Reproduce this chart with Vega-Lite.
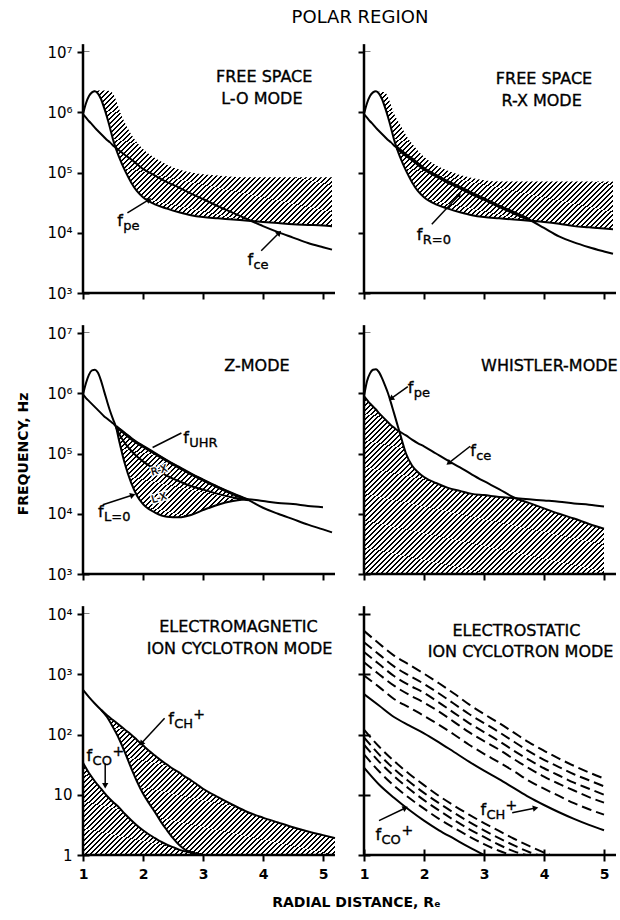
{
"$schema": "https://vega.github.io/schema/vega-lite/v6.json",
"background": "white",
"padding": {"left": 16, "top": 8, "right": 0, "bottom": 4},
"title": {"text": "POLAR REGION", "fontSize": 18, "fontWeight": "normal", "font": "DejaVu Sans", "color": "black", "anchor": "middle", "frame": "group", "dx": 277, "offset": 16},
"params": [{"name": "hatch", "value": {"gradient": "linear", "x1": 0, "y1": 0, "x2": 1, "y2": 1, "stops": [
{"offset":0,"color":"#000"},{"offset":0.004,"color":"#000"},{"offset":0.004,"color":"#fff"},{"offset":0.01,"color":"#fff"},
{"offset":0.01,"color":"#000"},{"offset":0.014,"color":"#000"},{"offset":0.014,"color":"#fff"},{"offset":0.02,"color":"#fff"},
{"offset":0.02,"color":"#000"},{"offset":0.024,"color":"#000"},{"offset":0.024,"color":"#fff"},{"offset":0.03,"color":"#fff"},
{"offset":0.03,"color":"#000"},{"offset":0.034,"color":"#000"},{"offset":0.034,"color":"#fff"},{"offset":0.04,"color":"#fff"},
{"offset":0.04,"color":"#000"},{"offset":0.044,"color":"#000"},{"offset":0.044,"color":"#fff"},{"offset":0.05,"color":"#fff"},
{"offset":0.05,"color":"#000"},{"offset":0.054,"color":"#000"},{"offset":0.054,"color":"#fff"},{"offset":0.06,"color":"#fff"},
{"offset":0.06,"color":"#000"},{"offset":0.064,"color":"#000"},{"offset":0.064,"color":"#fff"},{"offset":0.07,"color":"#fff"},
{"offset":0.07,"color":"#000"},{"offset":0.074,"color":"#000"},{"offset":0.074,"color":"#fff"},{"offset":0.08,"color":"#fff"},
{"offset":0.08,"color":"#000"},{"offset":0.084,"color":"#000"},{"offset":0.084,"color":"#fff"},{"offset":0.09,"color":"#fff"},
{"offset":0.09,"color":"#000"},{"offset":0.094,"color":"#000"},{"offset":0.094,"color":"#fff"},{"offset":0.1,"color":"#fff"},
{"offset":0.1,"color":"#000"},{"offset":0.104,"color":"#000"},{"offset":0.104,"color":"#fff"},{"offset":0.11,"color":"#fff"},
{"offset":0.11,"color":"#000"},{"offset":0.114,"color":"#000"},{"offset":0.114,"color":"#fff"},{"offset":0.12,"color":"#fff"},
{"offset":0.12,"color":"#000"},{"offset":0.124,"color":"#000"},{"offset":0.124,"color":"#fff"},{"offset":0.13,"color":"#fff"},
{"offset":0.13,"color":"#000"},{"offset":0.134,"color":"#000"},{"offset":0.134,"color":"#fff"},{"offset":0.14,"color":"#fff"},
{"offset":0.14,"color":"#000"},{"offset":0.144,"color":"#000"},{"offset":0.144,"color":"#fff"},{"offset":0.15,"color":"#fff"},
{"offset":0.15,"color":"#000"},{"offset":0.154,"color":"#000"},{"offset":0.154,"color":"#fff"},{"offset":0.16,"color":"#fff"},
{"offset":0.16,"color":"#000"},{"offset":0.164,"color":"#000"},{"offset":0.164,"color":"#fff"},{"offset":0.17,"color":"#fff"},
{"offset":0.17,"color":"#000"},{"offset":0.174,"color":"#000"},{"offset":0.174,"color":"#fff"},{"offset":0.18,"color":"#fff"},
{"offset":0.18,"color":"#000"},{"offset":0.184,"color":"#000"},{"offset":0.184,"color":"#fff"},{"offset":0.19,"color":"#fff"},
{"offset":0.19,"color":"#000"},{"offset":0.194,"color":"#000"},{"offset":0.194,"color":"#fff"},{"offset":0.2,"color":"#fff"},
{"offset":0.2,"color":"#000"},{"offset":0.204,"color":"#000"},{"offset":0.204,"color":"#fff"},{"offset":0.21,"color":"#fff"},
{"offset":0.21,"color":"#000"},{"offset":0.214,"color":"#000"},{"offset":0.214,"color":"#fff"},{"offset":0.22,"color":"#fff"},
{"offset":0.22,"color":"#000"},{"offset":0.224,"color":"#000"},{"offset":0.224,"color":"#fff"},{"offset":0.23,"color":"#fff"},
{"offset":0.23,"color":"#000"},{"offset":0.234,"color":"#000"},{"offset":0.234,"color":"#fff"},{"offset":0.24,"color":"#fff"},
{"offset":0.24,"color":"#000"},{"offset":0.244,"color":"#000"},{"offset":0.244,"color":"#fff"},{"offset":0.25,"color":"#fff"},
{"offset":0.25,"color":"#000"},{"offset":0.254,"color":"#000"},{"offset":0.254,"color":"#fff"},{"offset":0.26,"color":"#fff"},
{"offset":0.26,"color":"#000"},{"offset":0.264,"color":"#000"},{"offset":0.264,"color":"#fff"},{"offset":0.27,"color":"#fff"},
{"offset":0.27,"color":"#000"},{"offset":0.274,"color":"#000"},{"offset":0.274,"color":"#fff"},{"offset":0.28,"color":"#fff"},
{"offset":0.28,"color":"#000"},{"offset":0.284,"color":"#000"},{"offset":0.284,"color":"#fff"},{"offset":0.29,"color":"#fff"},
{"offset":0.29,"color":"#000"},{"offset":0.294,"color":"#000"},{"offset":0.294,"color":"#fff"},{"offset":0.3,"color":"#fff"},
{"offset":0.3,"color":"#000"},{"offset":0.304,"color":"#000"},{"offset":0.304,"color":"#fff"},{"offset":0.31,"color":"#fff"},
{"offset":0.31,"color":"#000"},{"offset":0.314,"color":"#000"},{"offset":0.314,"color":"#fff"},{"offset":0.32,"color":"#fff"},
{"offset":0.32,"color":"#000"},{"offset":0.324,"color":"#000"},{"offset":0.324,"color":"#fff"},{"offset":0.33,"color":"#fff"},
{"offset":0.33,"color":"#000"},{"offset":0.334,"color":"#000"},{"offset":0.334,"color":"#fff"},{"offset":0.34,"color":"#fff"},
{"offset":0.34,"color":"#000"},{"offset":0.344,"color":"#000"},{"offset":0.344,"color":"#fff"},{"offset":0.35,"color":"#fff"},
{"offset":0.35,"color":"#000"},{"offset":0.354,"color":"#000"},{"offset":0.354,"color":"#fff"},{"offset":0.36,"color":"#fff"},
{"offset":0.36,"color":"#000"},{"offset":0.364,"color":"#000"},{"offset":0.364,"color":"#fff"},{"offset":0.37,"color":"#fff"},
{"offset":0.37,"color":"#000"},{"offset":0.374,"color":"#000"},{"offset":0.374,"color":"#fff"},{"offset":0.38,"color":"#fff"},
{"offset":0.38,"color":"#000"},{"offset":0.384,"color":"#000"},{"offset":0.384,"color":"#fff"},{"offset":0.39,"color":"#fff"},
{"offset":0.39,"color":"#000"},{"offset":0.394,"color":"#000"},{"offset":0.394,"color":"#fff"},{"offset":0.4,"color":"#fff"},
{"offset":0.4,"color":"#000"},{"offset":0.404,"color":"#000"},{"offset":0.404,"color":"#fff"},{"offset":0.41,"color":"#fff"},
{"offset":0.41,"color":"#000"},{"offset":0.414,"color":"#000"},{"offset":0.414,"color":"#fff"},{"offset":0.42,"color":"#fff"},
{"offset":0.42,"color":"#000"},{"offset":0.424,"color":"#000"},{"offset":0.424,"color":"#fff"},{"offset":0.43,"color":"#fff"},
{"offset":0.43,"color":"#000"},{"offset":0.434,"color":"#000"},{"offset":0.434,"color":"#fff"},{"offset":0.44,"color":"#fff"},
{"offset":0.44,"color":"#000"},{"offset":0.444,"color":"#000"},{"offset":0.444,"color":"#fff"},{"offset":0.45,"color":"#fff"},
{"offset":0.45,"color":"#000"},{"offset":0.454,"color":"#000"},{"offset":0.454,"color":"#fff"},{"offset":0.46,"color":"#fff"},
{"offset":0.46,"color":"#000"},{"offset":0.464,"color":"#000"},{"offset":0.464,"color":"#fff"},{"offset":0.47,"color":"#fff"},
{"offset":0.47,"color":"#000"},{"offset":0.474,"color":"#000"},{"offset":0.474,"color":"#fff"},{"offset":0.48,"color":"#fff"},
{"offset":0.48,"color":"#000"},{"offset":0.484,"color":"#000"},{"offset":0.484,"color":"#fff"},{"offset":0.49,"color":"#fff"},
{"offset":0.49,"color":"#000"},{"offset":0.494,"color":"#000"},{"offset":0.494,"color":"#fff"},{"offset":0.5,"color":"#fff"},
{"offset":0.5,"color":"#000"},{"offset":0.504,"color":"#000"},{"offset":0.504,"color":"#fff"},{"offset":0.51,"color":"#fff"},
{"offset":0.51,"color":"#000"},{"offset":0.514,"color":"#000"},{"offset":0.514,"color":"#fff"},{"offset":0.52,"color":"#fff"},
{"offset":0.52,"color":"#000"},{"offset":0.524,"color":"#000"},{"offset":0.524,"color":"#fff"},{"offset":0.53,"color":"#fff"},
{"offset":0.53,"color":"#000"},{"offset":0.534,"color":"#000"},{"offset":0.534,"color":"#fff"},{"offset":0.54,"color":"#fff"},
{"offset":0.54,"color":"#000"},{"offset":0.544,"color":"#000"},{"offset":0.544,"color":"#fff"},{"offset":0.55,"color":"#fff"},
{"offset":0.55,"color":"#000"},{"offset":0.554,"color":"#000"},{"offset":0.554,"color":"#fff"},{"offset":0.56,"color":"#fff"},
{"offset":0.56,"color":"#000"},{"offset":0.564,"color":"#000"},{"offset":0.564,"color":"#fff"},{"offset":0.57,"color":"#fff"},
{"offset":0.57,"color":"#000"},{"offset":0.574,"color":"#000"},{"offset":0.574,"color":"#fff"},{"offset":0.58,"color":"#fff"},
{"offset":0.58,"color":"#000"},{"offset":0.584,"color":"#000"},{"offset":0.584,"color":"#fff"},{"offset":0.59,"color":"#fff"},
{"offset":0.59,"color":"#000"},{"offset":0.594,"color":"#000"},{"offset":0.594,"color":"#fff"},{"offset":0.6,"color":"#fff"},
{"offset":0.6,"color":"#000"},{"offset":0.604,"color":"#000"},{"offset":0.604,"color":"#fff"},{"offset":0.61,"color":"#fff"},
{"offset":0.61,"color":"#000"},{"offset":0.614,"color":"#000"},{"offset":0.614,"color":"#fff"},{"offset":0.62,"color":"#fff"},
{"offset":0.62,"color":"#000"},{"offset":0.624,"color":"#000"},{"offset":0.624,"color":"#fff"},{"offset":0.63,"color":"#fff"},
{"offset":0.63,"color":"#000"},{"offset":0.634,"color":"#000"},{"offset":0.634,"color":"#fff"},{"offset":0.64,"color":"#fff"},
{"offset":0.64,"color":"#000"},{"offset":0.644,"color":"#000"},{"offset":0.644,"color":"#fff"},{"offset":0.65,"color":"#fff"},
{"offset":0.65,"color":"#000"},{"offset":0.654,"color":"#000"},{"offset":0.654,"color":"#fff"},{"offset":0.66,"color":"#fff"},
{"offset":0.66,"color":"#000"},{"offset":0.664,"color":"#000"},{"offset":0.664,"color":"#fff"},{"offset":0.67,"color":"#fff"},
{"offset":0.67,"color":"#000"},{"offset":0.674,"color":"#000"},{"offset":0.674,"color":"#fff"},{"offset":0.68,"color":"#fff"},
{"offset":0.68,"color":"#000"},{"offset":0.684,"color":"#000"},{"offset":0.684,"color":"#fff"},{"offset":0.69,"color":"#fff"},
{"offset":0.69,"color":"#000"},{"offset":0.694,"color":"#000"},{"offset":0.694,"color":"#fff"},{"offset":0.7,"color":"#fff"},
{"offset":0.7,"color":"#000"},{"offset":0.704,"color":"#000"},{"offset":0.704,"color":"#fff"},{"offset":0.71,"color":"#fff"},
{"offset":0.71,"color":"#000"},{"offset":0.714,"color":"#000"},{"offset":0.714,"color":"#fff"},{"offset":0.72,"color":"#fff"},
{"offset":0.72,"color":"#000"},{"offset":0.724,"color":"#000"},{"offset":0.724,"color":"#fff"},{"offset":0.73,"color":"#fff"},
{"offset":0.73,"color":"#000"},{"offset":0.734,"color":"#000"},{"offset":0.734,"color":"#fff"},{"offset":0.74,"color":"#fff"},
{"offset":0.74,"color":"#000"},{"offset":0.744,"color":"#000"},{"offset":0.744,"color":"#fff"},{"offset":0.75,"color":"#fff"},
{"offset":0.75,"color":"#000"},{"offset":0.754,"color":"#000"},{"offset":0.754,"color":"#fff"},{"offset":0.76,"color":"#fff"},
{"offset":0.76,"color":"#000"},{"offset":0.764,"color":"#000"},{"offset":0.764,"color":"#fff"},{"offset":0.77,"color":"#fff"},
{"offset":0.77,"color":"#000"},{"offset":0.774,"color":"#000"},{"offset":0.774,"color":"#fff"},{"offset":0.78,"color":"#fff"},
{"offset":0.78,"color":"#000"},{"offset":0.784,"color":"#000"},{"offset":0.784,"color":"#fff"},{"offset":0.79,"color":"#fff"},
{"offset":0.79,"color":"#000"},{"offset":0.794,"color":"#000"},{"offset":0.794,"color":"#fff"},{"offset":0.8,"color":"#fff"},
{"offset":0.8,"color":"#000"},{"offset":0.804,"color":"#000"},{"offset":0.804,"color":"#fff"},{"offset":0.81,"color":"#fff"},
{"offset":0.81,"color":"#000"},{"offset":0.814,"color":"#000"},{"offset":0.814,"color":"#fff"},{"offset":0.82,"color":"#fff"},
{"offset":0.82,"color":"#000"},{"offset":0.824,"color":"#000"},{"offset":0.824,"color":"#fff"},{"offset":0.83,"color":"#fff"},
{"offset":0.83,"color":"#000"},{"offset":0.834,"color":"#000"},{"offset":0.834,"color":"#fff"},{"offset":0.84,"color":"#fff"},
{"offset":0.84,"color":"#000"},{"offset":0.844,"color":"#000"},{"offset":0.844,"color":"#fff"},{"offset":0.85,"color":"#fff"},
{"offset":0.85,"color":"#000"},{"offset":0.854,"color":"#000"},{"offset":0.854,"color":"#fff"},{"offset":0.86,"color":"#fff"},
{"offset":0.86,"color":"#000"},{"offset":0.864,"color":"#000"},{"offset":0.864,"color":"#fff"},{"offset":0.87,"color":"#fff"},
{"offset":0.87,"color":"#000"},{"offset":0.874,"color":"#000"},{"offset":0.874,"color":"#fff"},{"offset":0.88,"color":"#fff"},
{"offset":0.88,"color":"#000"},{"offset":0.884,"color":"#000"},{"offset":0.884,"color":"#fff"},{"offset":0.89,"color":"#fff"},
{"offset":0.89,"color":"#000"},{"offset":0.894,"color":"#000"},{"offset":0.894,"color":"#fff"},{"offset":0.9,"color":"#fff"},
{"offset":0.9,"color":"#000"},{"offset":0.904,"color":"#000"},{"offset":0.904,"color":"#fff"},{"offset":0.91,"color":"#fff"},
{"offset":0.91,"color":"#000"},{"offset":0.914,"color":"#000"},{"offset":0.914,"color":"#fff"},{"offset":0.92,"color":"#fff"},
{"offset":0.92,"color":"#000"},{"offset":0.924,"color":"#000"},{"offset":0.924,"color":"#fff"},{"offset":0.93,"color":"#fff"},
{"offset":0.93,"color":"#000"},{"offset":0.934,"color":"#000"},{"offset":0.934,"color":"#fff"},{"offset":0.94,"color":"#fff"},
{"offset":0.94,"color":"#000"},{"offset":0.944,"color":"#000"},{"offset":0.944,"color":"#fff"},{"offset":0.95,"color":"#fff"},
{"offset":0.95,"color":"#000"},{"offset":0.954,"color":"#000"},{"offset":0.954,"color":"#fff"},{"offset":0.96,"color":"#fff"},
{"offset":0.96,"color":"#000"},{"offset":0.964,"color":"#000"},{"offset":0.964,"color":"#fff"},{"offset":0.97,"color":"#fff"},
{"offset":0.97,"color":"#000"},{"offset":0.974,"color":"#000"},{"offset":0.974,"color":"#fff"},{"offset":0.98,"color":"#fff"},
{"offset":0.98,"color":"#000"},{"offset":0.984,"color":"#000"},{"offset":0.984,"color":"#fff"},{"offset":0.99,"color":"#fff"},
{"offset":0.99,"color":"#000"},{"offset":0.994,"color":"#000"},{"offset":0.994,"color":"#fff"},{"offset":1,"color":"#fff"}
]}}],
"columns": 2,
"spacing": {"row": 40, "column": 29},
"bounds": "flush",
"config": {
 "view": {"stroke": null},
 "font": "DejaVu Sans",
 "mark": {"invalid": "filter"},
 "line": {"color": "black", "strokeWidth": 2, "interpolate": "monotone"},
 "rule": {"color": "black"},
 "point": {"color": "black", "filled": true, "shape": "triangle-right", "size": 40, "opacity": 1},
 "text": {"color": "black", "font": "DejaVu Sans", "fontSize": 16, "align": "left", "baseline": "alphabetic", "stroke": "black", "strokeWidth": 0.35},
 "axis": {"grid": false, "domain": false, "tickSize": 12, "tickWidth": 2, "tickColor": "black", "offset": -6, "labelFont": "DejaVu Sans", "labelFontSize": 15, "labelColor": "black", "labelPadding": 5, "zindex": 1, "labelOverlap": false, "labelFlush": false, "labelBound": false, "titleFont": "DejaVu Sans", "titleColor": "black", "titleFontSize": 14, "titleFontWeight": "bold"}
},
"datasets": {
 "lo": [
  {"R":1,"pe":933300,"ce":933300,"top":933300},
  {"R":1.05,"pe":1413000,"ce":812800,"top":1413000},
  {"R":1.1,"pe":1862000,"ce":707900,"top":1862000},
  {"R":1.15,"pe":2138000,"ce":631000,"top":2138000},
  {"R":1.2,"pe":2239000,"ce":549500,"top":2291000},
  {"R":1.25,"pe":2042000,"ce":489800,"top":2291000},
  {"R":1.3,"pe":1660000,"ce":436500,"top":2291000},
  {"R":1.35,"pe":1202000,"ce":389000,"top":2291000},
  {"R":1.4,"pe":831800,"ce":346700,"top":2291000},
  {"R":1.45,"pe":549500,"ce":316200,"top":2239000},
  {"R":1.5,"pe":354800,"ce":281800,"top":2042000},
  {"R":1.55,"pe":245500,"ce":257000,"top":1585000},
  {"R":1.6,"pe":182000,"ce":234400,"top":1148000},
  {"R":1.7,"pe":107200,"ce":195000,"top":660700},
  {"R":1.8,"pe":69180,"ce":166000,"top":436500},
  {"R":1.9,"pe":48980,"ce":138000,"top":316200},
  {"R":2,"pe":38900,"ce":114800,"top":245500},
  {"R":2.2,"pe":29510,"ce":89130,"top":173800},
  {"R":2.4,"pe":25120,"ce":69180,"top":134900},
  {"R":2.6,"pe":21880,"ce":56230,"top":112200},
  {"R":2.8,"pe":19500,"ce":44670,"top":100000},
  {"R":3,"pe":18200,"ce":36310,"top":93330},
  {"R":3.25,"pe":17380,"ce":27540,"top":89130},
  {"R":3.5,"pe":16600,"ce":21380,"top":85110},
  {"R":3.75,"pe":15850,"ce":16600,"top":83180},
  {"R":4,"pe":15140,"ce":12880,"top":83180},
  {"R":4.25,"pe":14450,"ce":10230,"top":83180},
  {"R":4.5,"pe":13800,"ce":8318,"top":83180},
  {"R":4.75,"pe":13490,"ce":6761,"top":83180},
  {"R":5,"pe":13180,"ce":5754,"top":83180},
  {"R":5.15,"pe":12880,"ce":5248,"top":83180}
 ],
 "rx": [
  {"R":1,"pe":933300,"ce":933300,"top":933300},
  {"R":1.05,"pe":1413000,"ce":812800,"top":1413000},
  {"R":1.1,"pe":1862000,"ce":707900,"top":1862000},
  {"R":1.15,"pe":2138000,"ce":631000,"top":2138000},
  {"R":1.2,"pe":2239000,"ce":549500,"top":2188000},
  {"R":1.25,"pe":2042000,"ce":489800,"top":2188000},
  {"R":1.3,"pe":1660000,"ce":436500,"top":2188000},
  {"R":1.35,"pe":1202000,"ce":389000,"top":2138000},
  {"R":1.4,"pe":831800,"ce":346700,"top":1778000},
  {"R":1.45,"pe":549500,"ce":316200,"top":1318000},
  {"R":1.5,"pe":354800,"ce":281800,"top":955000},
  {"R":1.55,"pe":245500,"ce":257000,"r0":257000,"top":758600},
  {"R":1.6,"pe":182000,"ce":234400,"r0":234400,"top":631000},
  {"R":1.7,"pe":107200,"ce":195000,"r0":195000,"top":416900},
  {"R":1.8,"pe":69180,"ce":166000,"r0":166000,"top":302000},
  {"R":1.9,"pe":48980,"ce":138000,"r0":138000,"top":229100},
  {"R":2,"pe":38900,"ce":114800,"r0":114800,"top":182000},
  {"R":2.2,"pe":29510,"ce":89130,"r0":89130,"top":131800},
  {"R":2.4,"pe":25120,"ce":69180,"r0":69180,"top":107200},
  {"R":2.6,"pe":21880,"ce":56230,"r0":56230,"top":91200},
  {"R":2.8,"pe":19500,"ce":44670,"r0":44670,"top":81280},
  {"R":3,"pe":18200,"ce":36310,"r0":36310,"top":74130},
  {"R":3.25,"pe":17380,"ce":27540,"r0":27540,"top":70790},
  {"R":3.5,"pe":16600,"ce":21380,"r0":21380,"top":70790},
  {"R":3.75,"pe":15850,"ce":16600,"r0":16600,"top":70790},
  {"R":4,"pe":15140,"ce":12020,"top":70790},
  {"R":4.25,"pe":14130,"ce":8710,"top":70790},
  {"R":4.5,"pe":12880,"ce":6918,"top":70790},
  {"R":4.75,"pe":12300,"ce":5754,"top":70790},
  {"R":5,"pe":11750,"ce":4898,"top":70790},
  {"R":5.15,"pe":11480,"ce":4467,"top":70790}
 ],
 "z": [
  {"R":1,"lo":955000,"up":955000},
  {"R":1.05,"lo":1479000,"up":831800},
  {"R":1.1,"lo":2042000,"up":741300},
  {"R":1.15,"lo":2399000,"up":660700},
  {"R":1.2,"lo":2455000,"up":588800},
  {"R":1.25,"lo":2188000,"up":524800},
  {"R":1.3,"lo":1622000,"up":467700},
  {"R":1.35,"lo":1096000,"up":416900},
  {"R":1.4,"lo":741300,"up":380200},
  {"R":1.45,"lo":512900,"up":346700},
  {"R":1.5,"lo":371500,"up":316200},
  {"R":1.55,"lo":275400,"up":281800,"mid":275400,"uhr":281800},
  {"R":1.6,"lo":166000,"up":257000,"mid":213800,"uhr":257000},
  {"R":1.7,"lo":66070,"up":213800,"mid":147900,"uhr":213800},
  {"R":1.8,"lo":33110,"up":177800,"mid":112200,"uhr":177800},
  {"R":1.9,"lo":19950,"up":151400,"mid":89130,"uhr":151400},
  {"R":2,"lo":14450,"up":131800,"mid":74130,"uhr":131800},
  {"R":2.2,"lo":10470,"up":100000,"mid":54950,"uhr":100000},
  {"R":2.4,"lo":8913,"up":75860,"mid":42660,"uhr":75860},
  {"R":2.6,"lo":8710,"up":58880,"mid":34670,"uhr":58880},
  {"R":2.8,"lo":9550,"up":45710,"mid":28840,"uhr":45710},
  {"R":3,"lo":11480,"up":36310,"mid":25120,"uhr":36310},
  {"R":3.25,"lo":14130,"up":27540,"mid":21380,"uhr":27540},
  {"R":3.5,"lo":16220,"up":21380,"mid":18620,"uhr":21380},
  {"R":3.75,"lo":17380,"up":16980,"mid":16980,"uhr":16980},
  {"R":4,"lo":16220,"up":12590},
  {"R":4.25,"lo":15140,"up":10000},
  {"R":4.5,"lo":14450,"up":8128},
  {"R":4.75,"lo":13490,"up":6607},
  {"R":5,"lo":12880,"up":5495},
  {"R":5.15,"up":4898}
 ],
 "wh": [
  {"R":1,"pe":891300,"ce":891300},
  {"R":1.05,"pe":1585000,"ce":776200},
  {"R":1.1,"pe":2138000,"ce":676100},
  {"R":1.15,"pe":2455000,"ce":602600},
  {"R":1.2,"pe":2512000,"ce":537000},
  {"R":1.25,"pe":2239000,"ce":467700},
  {"R":1.3,"pe":1778000,"ce":416900},
  {"R":1.35,"pe":1349000,"ce":371500},
  {"R":1.4,"pe":1000000,"ce":331100},
  {"R":1.45,"pe":691800,"ce":295100},
  {"R":1.5,"pe":467700,"ce":269200},
  {"R":1.55,"pe":316200,"ce":245500},
  {"R":1.6,"pe":213800,"ce":229100},
  {"R":1.7,"pe":100000,"ce":199500},
  {"R":1.8,"pe":63100,"ce":169800},
  {"R":1.9,"pe":48980,"ce":147900},
  {"R":2,"pe":40740,"ce":131800},
  {"R":2.2,"pe":32360,"ce":100000},
  {"R":2.4,"pe":26920,"ce":75860},
  {"R":2.6,"pe":23990,"ce":58880},
  {"R":2.8,"pe":21380,"ce":44670},
  {"R":3,"pe":20420,"ce":34670},
  {"R":3.25,"pe":19050,"ce":25700},
  {"R":3.5,"pe":18200,"ce":18620},
  {"R":3.75,"pe":17380,"ce":15140},
  {"R":4,"pe":16600,"ce":12300},
  {"R":4.25,"pe":15850,"ce":10000},
  {"R":4.5,"pe":14790,"ce":8318},
  {"R":4.75,"pe":14130,"ce":6761},
  {"R":5,"pe":13180,"ce":5623}
 ],
 "em": [
  {"R":1,"ch":549.5,"inn":549.5,"co":33.88},
  {"R":1.1,"ch":416.9,"inn":416.9,"co":22.91},
  {"R":1.2,"ch":323.6,"inn":323.6,"co":16.6},
  {"R":1.3,"ch":257,"inn":257,"co":12.59},
  {"R":1.4,"ch":208.9,"inn":195,"co":9.55},
  {"R":1.5,"ch":173.8,"inn":131.8,"co":7.586},
  {"R":1.6,"ch":144.5,"inn":85.11,"co":6.166},
  {"R":1.7,"ch":120.2,"inn":50.12,"co":4.786},
  {"R":1.8,"ch":100,"inn":28.18,"co":3.802},
  {"R":1.9,"ch":81.28,"inn":16.6,"co":3.09},
  {"R":2,"ch":66.07,"inn":10.47,"co":2.57},
  {"R":2.1,"ch":53.7,"inn":7.244,"co":2.188},
  {"R":2.2,"ch":44.67,"inn":5.129,"co":1.905},
  {"R":2.3,"ch":37.15,"inn":3.548,"co":1.66},
  {"R":2.4,"ch":31.62,"inn":2.57,"co":1.479},
  {"R":2.5,"ch":26.92,"inn":1.905,"co":1.349},
  {"R":2.6,"ch":23.44,"inn":1.479,"co":1.23},
  {"R":2.7,"ch":19.95,"inn":1.23,"co":1.148},
  {"R":2.8,"ch":17.38,"inn":1.122,"co":1.096},
  {"R":2.9,"ch":14.79,"inn":1.047,"co":1.023},
  {"R":3,"ch":12.59,"inn":1,"co":1},
  {"R":3.25,"ch":9.12},
  {"R":3.5,"ch":6.761},
  {"R":3.75,"ch":5.129},
  {"R":4,"ch":4.169},
  {"R":4.25,"ch":3.467},
  {"R":4.5,"ch":2.884},
  {"R":4.75,"ch":2.455},
  {"R":5,"ch":2.138},
  {"R":5.2,"ch":1.905}
 ],
 "es": [
  {"R":1,"ch":467.7,"h1":5248,"h2":3388,"h3":2344,"h4":1585,"h5":955,"co":28.18,"o1":120.2,"o2":89.13,"o3":67.61,"o4":46.77},
  {"R":1.25,"ch":302,"h1":3236,"h2":2138,"h3":1479,"h4":1000,"h5":616.6,"co":14.79,"o1":63.1,"o2":46.77,"o3":35.48,"o4":24.55},
  {"R":1.5,"ch":195,"h1":2042,"h2":1349,"h3":933.3,"h4":645.7,"h5":389,"co":8.913,"o1":36.31,"o2":26.92,"o3":20.42,"o4":14.13},
  {"R":1.75,"ch":141.3,"h1":1445,"h2":955,"h3":660.7,"h4":457.1,"h5":281.8,"co":5.623,"o1":22.39,"o2":16.6,"o3":12.59,"o4":8.913},
  {"R":2,"ch":104.7,"h1":1023,"h2":691.8,"h3":489.8,"h4":338.8,"h5":204.2,"co":3.715,"o1":14.45,"o2":10.72,"o3":8.128,"o4":5.888},
  {"R":2.25,"ch":74.13,"h1":707.9,"h2":478.6,"h3":338.8,"h4":239.9,"h5":144.5,"co":2.57,"o1":9.55,"o2":7.244,"o3":5.495,"o4":3.981},
  {"R":2.5,"ch":51.29,"h1":478.6,"h2":323.6,"h3":229.1,"h4":162.2,"h5":100,"co":1.862,"o1":6.607,"o2":5.012,"o3":3.802,"o4":2.818},
  {"R":2.75,"ch":35.48,"h1":316.2,"h2":218.8,"h3":154.9,"h4":109.6,"h5":67.61,"co":1.349,"o1":4.677,"o2":3.548,"o3":2.692,"o4":2.042},
  {"R":3,"ch":25.12,"h1":218.8,"h2":154.9,"h3":109.6,"h4":77.62,"h5":47.86,"co":1,"o1":3.388,"o2":2.57,"o3":1.995,"o4":1.514},
  {"R":3.25,"ch":18.2,"h1":154.9,"h2":109.6,"h3":77.62,"h4":56.23,"h5":34.67,"o1":2.512,"o2":1.905,"o3":1.479,"o4":1.175},
  {"R":3.45,"o4":1},
  {"R":3.5,"ch":12.88,"h1":107.2,"h2":75.86,"h3":53.7,"h4":38.9,"h5":24.55,"o1":1.862,"o2":1.445,"o3":1.148},
  {"R":3.7,"o3":1},
  {"R":3.75,"ch":9.12,"h1":74.13,"h2":52.48,"h3":38.02,"h4":27.54,"h5":16.98,"o1":1.413,"o2":1.122},
  {"R":3.9,"o2":1},
  {"R":4,"ch":6.761,"h1":53.7,"h2":38.02,"h3":27.54,"h4":19.95,"h5":12.59,"o1":1.096},
  {"R":4.1,"o1":1},
  {"R":4.25,"ch":5.129,"h1":39.81,"h2":28.84,"h3":20.89,"h4":15.14,"h5":9.55},
  {"R":4.5,"ch":3.981,"h1":30.2,"h2":21.88,"h3":15.85,"h4":11.75,"h5":7.244},
  {"R":4.75,"ch":3.162,"h1":23.44,"h2":17.38,"h3":12.59,"h4":9.12,"h5":5.754},
  {"R":5,"ch":2.57,"h1":18.62,"h2":13.8,"h3":10,"h4":7.413,"h5":4.677}
 ]
},
"concat": [
 {"width": 252, "height": 241, "layer": [
  {"data": {"values": [{}]}, "mark": {"type": "rect", "fill": {"expr": "hatch"}}, "encoding": {
    "x": {"datum": 1, "type": "quantitative", "scale": {"domain": [1, 5.2], "zero": false, "nice": false}, "axis": {"values": [1,2,3,4,5], "labels": false, "title": null}},
    "x2": {"datum": 5.2},
    "y": {"datum": 1000, "type": "quantitative", "scale": {"type": "log", "domain": [1000, 10000000], "nice": false}, "axis": {"values": [1000,10000,100000,1000000,10000000], "title": null, "labelExpr": "datum.value >= 1e7 ? '10⁷' : datum.value >= 1e6 ? '10⁶' : datum.value >= 1e5 ? '10⁵' : datum.value >= 1e4 ? '10⁴' : '10³'"}},
    "y2": {"datum": 10000000}}},
  {"data": {"name": "lo"}, "mark": {"type": "area", "fill": "white", "interpolate": "monotone"}, "encoding": {"x": {"field": "R", "type": "quantitative"}, "y": {"field": "pe", "type": "quantitative"}, "y2": {"datum": 1000}}},
  {"data": {"name": "lo"}, "mark": {"type": "area", "fill": "white", "interpolate": "monotone"}, "encoding": {"x": {"field": "R", "type": "quantitative"}, "y": {"field": "top", "type": "quantitative"}, "y2": {"datum": 10000000}}},
  {"data": {"values": [{}]}, "mark": {"type": "rect", "fill": "white"}, "encoding": {"x": {"datum": 5.15}, "x2": {"datum": 5.2}, "y": {"datum": 1000}, "y2": {"datum": 10000000}}},
  {"data": {"name": "lo"}, "mark": {"type": "line"}, "encoding": {"x": {"field": "R", "type": "quantitative"}, "y": {"field": "pe", "type": "quantitative"}}},
  {"data": {"name": "lo"}, "mark": {"type": "line"}, "encoding": {"x": {"field": "R", "type": "quantitative"}, "y": {"field": "ce", "type": "quantitative"}}},
  {"data": {"values": [{}]}, "mark": {"type": "rule", "strokeWidth": 2.5}, "encoding": {"x": {"datum": 1}, "y": {"datum": 1000}, "y2": {"datum": 13500000}}},
  {"data": {"values": [{}]}, "mark": {"type": "rule", "strokeWidth": 2.5}, "encoding": {"x": {"datum": 1}, "x2": {"datum": 5.2}, "y": {"datum": 1000}}},
  {"data": {"values": [{}]}, "mark": {"type": "text", "text": "FREE SPACE", "align": "center", "baseline": "middle"}, "encoding": {"x": {"datum": 4.02}, "y": {"datum": 3802000}}},
  {"data": {"values": [{}]}, "mark": {"type": "text", "text": "L-O MODE", "align": "center", "baseline": "middle"}, "encoding": {"x": {"datum": 3.98}, "y": {"datum": 1660000}}},
  {"data": {"values": [{}]}, "mark": {"type": "text", "text": "f"}, "encoding": {"x": {"datum": 1.57}, "y": {"datum": 12880}}},
  {"data": {"values": [{}]}, "mark": {"type": "text", "text": "pe", "fontSize": 13, "dx": 6, "dy": 4}, "encoding": {"x": {"datum": 1.57}, "y": {"datum": 12880}}},
  {"data": {"values": [{}]}, "mark": {"type": "rule", "strokeWidth": 1.5}, "encoding": {"x": {"datum": 1.74}, "y": {"datum": 21380}, "x2": {"datum": 2.1}, "y2": {"datum": 35480}}},
  {"data": {"values": [{}]}, "mark": {"type": "point", "angle": 328}, "encoding": {"x": {"datum": 2.1}, "y": {"datum": 35480}}},
  {"data": {"values": [{}]}, "mark": {"type": "text", "text": "f"}, "encoding": {"x": {"datum": 3.74}, "y": {"datum": 2951}}},
  {"data": {"values": [{}]}, "mark": {"type": "text", "text": "ce", "fontSize": 13, "dx": 6, "dy": 4}, "encoding": {"x": {"datum": 3.74}, "y": {"datum": 2951}}},
  {"data": {"values": [{}]}, "mark": {"type": "rule", "strokeWidth": 1.5}, "encoding": {"x": {"datum": 3.97}, "y": {"datum": 5012}, "x2": {"datum": 4.27}, "y2": {"datum": 10000}}},
  {"data": {"values": [{}]}, "mark": {"type": "point", "angle": 315}, "encoding": {"x": {"datum": 4.27}, "y": {"datum": 10000}}}
 ]},
 {"width": 252, "height": 241, "layer": [
  {"data": {"values": [{}]}, "mark": {"type": "rect", "fill": {"expr": "hatch"}}, "encoding": {
    "x": {"datum": 1, "type": "quantitative", "scale": {"domain": [1, 5.2], "zero": false, "nice": false}, "axis": {"values": [1,2,3,4,5], "labels": false, "title": null}},
    "x2": {"datum": 5.2},
    "y": {"datum": 1000, "type": "quantitative", "scale": {"type": "log", "domain": [1000, 10000000], "nice": false}, "axis": {"values": [1000,10000,100000,1000000,10000000], "labels": false, "title": null}},
    "y2": {"datum": 10000000}}},
  {"data": {"name": "rx"}, "mark": {"type": "area", "fill": "white", "interpolate": "monotone"}, "encoding": {"x": {"field": "R", "type": "quantitative"}, "y": {"field": "pe", "type": "quantitative"}, "y2": {"datum": 1000}}},
  {"data": {"name": "rx"}, "mark": {"type": "area", "fill": "white", "interpolate": "monotone"}, "encoding": {"x": {"field": "R", "type": "quantitative"}, "y": {"field": "top", "type": "quantitative"}, "y2": {"datum": 10000000}}},
  {"data": {"values": [{}]}, "mark": {"type": "rect", "fill": "white"}, "encoding": {"x": {"datum": 5.15}, "x2": {"datum": 5.2}, "y": {"datum": 1000}, "y2": {"datum": 10000000}}},
  {"data": {"name": "rx"}, "mark": {"type": "line"}, "encoding": {"x": {"field": "R", "type": "quantitative"}, "y": {"field": "pe", "type": "quantitative"}}},
  {"data": {"name": "rx"}, "mark": {"type": "line"}, "encoding": {"x": {"field": "R", "type": "quantitative"}, "y": {"field": "ce", "type": "quantitative"}}},
  {"data": {"name": "rx"}, "mark": {"type": "line", "strokeWidth": 3.5}, "encoding": {"x": {"field": "R", "type": "quantitative"}, "y": {"field": "r0", "type": "quantitative"}}},
  {"data": {"values": [{}]}, "mark": {"type": "rule", "strokeWidth": 2.5}, "encoding": {"x": {"datum": 1}, "y": {"datum": 1000}, "y2": {"datum": 13500000}}},
  {"data": {"values": [{}]}, "mark": {"type": "rule", "strokeWidth": 2.5}, "encoding": {"x": {"datum": 1}, "x2": {"datum": 5.2}, "y": {"datum": 1000}}},
  {"data": {"values": [{}]}, "mark": {"type": "text", "text": "FREE SPACE", "align": "center", "baseline": "middle"}, "encoding": {"x": {"datum": 4.0}, "y": {"datum": 3548000}}},
  {"data": {"values": [{}]}, "mark": {"type": "text", "text": "R-X MODE", "align": "center", "baseline": "middle"}, "encoding": {"x": {"datum": 3.96}, "y": {"datum": 1549000}}},
  {"data": {"values": [{}]}, "mark": {"type": "text", "text": "f"}, "encoding": {"x": {"datum": 1.88}, "y": {"datum": 7586}}},
  {"data": {"values": [{}]}, "mark": {"type": "text", "text": "R=0", "fontSize": 13, "dx": 6, "dy": 4}, "encoding": {"x": {"datum": 1.88}, "y": {"datum": 7586}}},
  {"data": {"values": [{}]}, "mark": {"type": "rule", "strokeWidth": 1.5}, "encoding": {"x": {"datum": 2.13}, "y": {"datum": 13800}, "x2": {"datum": 2.59}, "y2": {"datum": 42660}}},
  {"data": {"values": [{}]}, "mark": {"type": "point", "angle": 313, "size": 25}, "encoding": {"x": {"datum": 2.59}, "y": {"datum": 42660}}}
 ]},
 {"width": 252, "height": 241, "layer": [
  {"data": {"values": [{}]}, "mark": {"type": "rect", "fill": {"expr": "hatch"}}, "encoding": {
    "x": {"datum": 1, "type": "quantitative", "scale": {"domain": [1, 5.2], "zero": false, "nice": false}, "axis": {"values": [1,2,3,4,5], "labels": false, "title": null}},
    "x2": {"datum": 5.2},
    "y": {"datum": 1000, "type": "quantitative", "scale": {"type": "log", "domain": [1000, 10000000], "nice": false}, "axis": {"values": [1000,10000,100000,1000000,10000000], "title": "FREQUENCY, Hz", "titlePadding": 16, "labelExpr": "datum.value >= 1e7 ? '10⁷' : datum.value >= 1e6 ? '10⁶' : datum.value >= 1e5 ? '10⁵' : datum.value >= 1e4 ? '10⁴' : '10³'"}},
    "y2": {"datum": 10000000}}},
  {"data": {"name": "z"}, "mark": {"type": "area", "fill": "white", "interpolate": "monotone"}, "encoding": {"x": {"field": "R", "type": "quantitative"}, "y": {"field": "lo", "type": "quantitative"}, "y2": {"datum": 1000}}},
  {"data": {"name": "z"}, "mark": {"type": "area", "fill": "white", "interpolate": "monotone"}, "encoding": {"x": {"field": "R", "type": "quantitative"}, "y": {"field": "up", "type": "quantitative"}, "y2": {"datum": 10000000}}},
  {"data": {"values": [{}]}, "mark": {"type": "rect", "fill": "white"}, "encoding": {"x": {"datum": 1}, "x2": {"datum": 1.55}, "y": {"datum": 1000}, "y2": {"datum": 10000000}}},
  {"data": {"values": [{}]}, "mark": {"type": "rect", "fill": "white"}, "encoding": {"x": {"datum": 3.75}, "x2": {"datum": 5.2}, "y": {"datum": 1000}, "y2": {"datum": 10000000}}},
  {"data": {"name": "z"}, "mark": {"type": "line"}, "encoding": {"x": {"field": "R", "type": "quantitative"}, "y": {"field": "lo", "type": "quantitative"}}},
  {"data": {"name": "z"}, "mark": {"type": "line"}, "encoding": {"x": {"field": "R", "type": "quantitative"}, "y": {"field": "up", "type": "quantitative"}}},
  {"data": {"name": "z"}, "mark": {"type": "line", "strokeWidth": 3}, "encoding": {"x": {"field": "R", "type": "quantitative"}, "y": {"field": "uhr", "type": "quantitative"}}},
  {"data": {"name": "z"}, "mark": {"type": "line"}, "encoding": {"x": {"field": "R", "type": "quantitative"}, "y": {"field": "mid", "type": "quantitative"}}},
  {"data": {"values": [{}]}, "mark": {"type": "rule", "strokeWidth": 2.5}, "encoding": {"x": {"datum": 1}, "y": {"datum": 1000}, "y2": {"datum": 13500000}}},
  {"data": {"values": [{}]}, "mark": {"type": "rule", "strokeWidth": 2.5}, "encoding": {"x": {"datum": 1}, "x2": {"datum": 5.2}, "y": {"datum": 1000}}},
  {"data": {"values": [{}]}, "mark": {"type": "text", "text": "Z-MODE", "align": "center", "baseline": "middle"}, "encoding": {"x": {"datum": 3.9}, "y": {"datum": 2884000}}},
  {"data": {"values": [{}]}, "mark": {"type": "text", "text": "f"}, "encoding": {"x": {"datum": 2.67}, "y": {"datum": 151400}}},
  {"data": {"values": [{}]}, "mark": {"type": "text", "text": "UHR", "fontSize": 13, "dx": 6, "dy": 4}, "encoding": {"x": {"datum": 2.67}, "y": {"datum": 151400}}},
  {"data": {"values": [{}]}, "mark": {"type": "rule", "strokeWidth": 1.5}, "encoding": {"x": {"datum": 2.16}, "y": {"datum": 125900}, "x2": {"datum": 2.64}, "y2": {"datum": 218800}}},
  {"data": {"values": [{}]}, "mark": {"type": "text", "text": "f"}, "encoding": {"x": {"datum": 1.25}, "y": {"datum": 8913}}},
  {"data": {"values": [{}]}, "mark": {"type": "text", "text": "L=0", "fontSize": 13, "dx": 6, "dy": 4}, "encoding": {"x": {"datum": 1.25}, "y": {"datum": 8913}}},
  {"data": {"values": [{}]}, "mark": {"type": "rule", "strokeWidth": 1.5}, "encoding": {"x": {"datum": 1.33}, "y": {"datum": 14130}, "x2": {"datum": 1.83}, "y2": {"datum": 20420}}},
  {"data": {"values": [{}]}, "mark": {"type": "point", "angle": 342}, "encoding": {"x": {"datum": 1.83}, "y": {"datum": 20420}}},
  {"data": {"values": [{}]}, "mark": {"type": "text", "text": "R-X", "fontSize": 10, "align": "center", "baseline": "middle", "angle": 345, "color": "white", "stroke": "white", "strokeWidth": 3}, "encoding": {"x": {"datum": 2.27}, "y": {"datum": 52480}}},
  {"data": {"values": [{}]}, "mark": {"type": "text", "text": "L-X", "fontSize": 10, "align": "center", "baseline": "middle", "angle": 345, "color": "white", "stroke": "white", "strokeWidth": 3}, "encoding": {"x": {"datum": 2.27}, "y": {"datum": 18200}}},
  {"data": {"values": [{}]}, "mark": {"type": "text", "text": "R-X", "fontSize": 10, "align": "center", "baseline": "middle", "angle": 345}, "encoding": {"x": {"datum": 2.27}, "y": {"datum": 52480}}},
  {"data": {"values": [{}]}, "mark": {"type": "text", "text": "L-X", "fontSize": 10, "align": "center", "baseline": "middle", "angle": 345}, "encoding": {"x": {"datum": 2.27}, "y": {"datum": 18200}}}
 ]},
 {"width": 252, "height": 241, "layer": [
  {"data": {"values": [{}]}, "mark": {"type": "rect", "fill": {"expr": "hatch"}}, "encoding": {
    "x": {"datum": 1, "type": "quantitative", "scale": {"domain": [1, 5.2], "zero": false, "nice": false}, "axis": {"values": [1,2,3,4,5], "labels": false, "title": null}},
    "x2": {"datum": 5.2},
    "y": {"datum": 1000, "type": "quantitative", "scale": {"type": "log", "domain": [1000, 10000000], "nice": false}, "axis": {"values": [1000,10000,100000,1000000,10000000], "labels": false, "title": null}},
    "y2": {"datum": 10000000}}},
  {"data": {"name": "wh"}, "mark": {"type": "area", "fill": "white", "interpolate": "monotone"}, "encoding": {"x": {"field": "R", "type": "quantitative"}, "y": {"field": "pe", "type": "quantitative"}, "y2": {"datum": 10000000}}},
  {"data": {"name": "wh"}, "mark": {"type": "area", "fill": "white", "interpolate": "monotone"}, "encoding": {"x": {"field": "R", "type": "quantitative"}, "y": {"field": "ce", "type": "quantitative"}, "y2": {"datum": 10000000}}},
  {"data": {"values": [{}]}, "mark": {"type": "rect", "fill": "white"}, "encoding": {"x": {"datum": 5}, "x2": {"datum": 5.2}, "y": {"datum": 1000}, "y2": {"datum": 10000000}}},
  {"data": {"name": "wh"}, "mark": {"type": "line"}, "encoding": {"x": {"field": "R", "type": "quantitative"}, "y": {"field": "pe", "type": "quantitative"}}},
  {"data": {"name": "wh"}, "mark": {"type": "line"}, "encoding": {"x": {"field": "R", "type": "quantitative"}, "y": {"field": "ce", "type": "quantitative"}}},
  {"data": {"values": [{}]}, "mark": {"type": "rule", "strokeWidth": 2.5}, "encoding": {"x": {"datum": 1}, "y": {"datum": 1000}, "y2": {"datum": 13500000}}},
  {"data": {"values": [{}]}, "mark": {"type": "rule", "strokeWidth": 2.5}, "encoding": {"x": {"datum": 1}, "x2": {"datum": 5.2}, "y": {"datum": 1000}}},
  {"data": {"values": [{}]}, "mark": {"type": "text", "text": "WHISTLER-MODE", "align": "center", "baseline": "middle"}, "encoding": {"x": {"datum": 4.09}, "y": {"datum": 2884000}}},
  {"data": {"values": [{}]}, "mark": {"type": "text", "text": "f"}, "encoding": {"x": {"datum": 1.73}, "y": {"datum": 1000000}}},
  {"data": {"values": [{}]}, "mark": {"type": "text", "text": "pe", "fontSize": 13, "dx": 6, "dy": 4}, "encoding": {"x": {"datum": 1.73}, "y": {"datum": 1000000}}},
  {"data": {"values": [{}]}, "mark": {"type": "rule", "strokeWidth": 1.5}, "encoding": {"x": {"datum": 1.73}, "y": {"datum": 1288000}, "x2": {"datum": 1.45}, "y2": {"datum": 812800}}},
  {"data": {"values": [{}]}, "mark": {"type": "point", "angle": 145}, "encoding": {"x": {"datum": 1.45}, "y": {"datum": 812800}}},
  {"data": {"values": [{}]}, "mark": {"type": "text", "text": "f"}, "encoding": {"x": {"datum": 2.77}, "y": {"datum": 91200}}},
  {"data": {"values": [{}]}, "mark": {"type": "text", "text": "ce", "fontSize": 13, "dx": 6, "dy": 4}, "encoding": {"x": {"datum": 2.77}, "y": {"datum": 91200}}},
  {"data": {"values": [{}]}, "mark": {"type": "rule", "strokeWidth": 1.5}, "encoding": {"x": {"datum": 2.77}, "y": {"datum": 131800}, "x2": {"datum": 2.41}, "y2": {"datum": 69180}}},
  {"data": {"values": [{}]}, "mark": {"type": "point", "angle": 142}, "encoding": {"x": {"datum": 2.41}, "y": {"datum": 69180}}}
 ]},
 {"width": 252, "height": 241, "layer": [
  {"data": {"values": [{}]}, "mark": {"type": "rect", "fill": {"expr": "hatch"}}, "encoding": {
    "x": {"datum": 1, "type": "quantitative", "scale": {"domain": [1, 5.2], "zero": false, "nice": false}, "axis": {"values": [1,2,3,4,5], "format": "d", "labelFontSize": 14, "labelFontWeight": "bold", "labelPadding": 6, "title": "RADIAL DISTANCE, Rₑ", "titleX": 273, "titleAlign": "center", "titlePadding": 14}},
    "x2": {"datum": 5.2},
    "y": {"datum": 1, "type": "quantitative", "scale": {"type": "log", "domain": [1, 10000], "nice": false}, "axis": {"values": [1,10,100,1000,10000], "title": null, "labelExpr": "datum.value >= 1e4 ? '10⁴' : datum.value >= 1e3 ? '10³' : datum.value >= 100 ? '10²' : datum.value >= 10 ? '10' : '1'"}},
    "y2": {"datum": 10000}}},
  {"data": {"name": "em"}, "mark": {"type": "area", "fill": "white", "interpolate": "monotone"}, "encoding": {"x": {"field": "R", "type": "quantitative"}, "y": {"field": "ch", "type": "quantitative"}, "y2": {"datum": 10000}}},
  {"data": {"name": "em"}, "mark": {"type": "area", "fill": "white", "interpolate": "monotone"}, "encoding": {"x": {"field": "R", "type": "quantitative"}, "y": {"field": "co", "type": "quantitative"}, "y2": {"field": "inn"}}},
  {"data": {"name": "em"}, "mark": {"type": "line"}, "encoding": {"x": {"field": "R", "type": "quantitative"}, "y": {"field": "ch", "type": "quantitative"}}},
  {"data": {"name": "em"}, "transform": [{"filter": "datum.R >= 1.3"}], "mark": {"type": "line"}, "encoding": {"x": {"field": "R", "type": "quantitative"}, "y": {"field": "inn", "type": "quantitative"}}},
  {"data": {"name": "em"}, "mark": {"type": "line"}, "encoding": {"x": {"field": "R", "type": "quantitative"}, "y": {"field": "co", "type": "quantitative"}}},
  {"data": {"values": [{}]}, "mark": {"type": "rule", "strokeWidth": 2.5}, "encoding": {"x": {"datum": 1}, "y": {"datum": 1}, "y2": {"datum": 13500}}},
  {"data": {"values": [{}]}, "mark": {"type": "rule", "strokeWidth": 2.5}, "encoding": {"x": {"datum": 1}, "x2": {"datum": 5.2}, "y": {"datum": 1}}},
  {"data": {"values": [{}]}, "mark": {"type": "text", "text": "ELECTROMAGNETIC", "align": "center", "baseline": "middle"}, "encoding": {"x": {"datum": 3.59}, "y": {"datum": 6166}}},
  {"data": {"values": [{}]}, "mark": {"type": "text", "text": "ION CYCLOTRON MODE", "align": "center", "baseline": "middle"}, "encoding": {"x": {"datum": 3.61}, "y": {"datum": 2630}}},
  {"data": {"values": [{}]}, "mark": {"type": "text", "text": "f"}, "encoding": {"x": {"datum": 2.42}, "y": {"datum": 151.4}}},
  {"data": {"values": [{}]}, "mark": {"type": "text", "text": "CH", "fontSize": 13, "dx": 6, "dy": 4}, "encoding": {"x": {"datum": 2.42}, "y": {"datum": 151.4}}},
  {"data": {"values": [{}]}, "mark": {"type": "text", "text": "+", "fontSize": 14, "dx": 25, "dy": -5}, "encoding": {"x": {"datum": 2.42}, "y": {"datum": 151.4}}},
  {"data": {"values": [{}]}, "mark": {"type": "rule", "strokeWidth": 1.5}, "encoding": {"x": {"datum": 2.36}, "y": {"datum": 186.2}, "x2": {"datum": 1.97}, "y2": {"datum": 70.79}}},
  {"data": {"values": [{}]}, "mark": {"type": "point", "angle": 133}, "encoding": {"x": {"datum": 1.97}, "y": {"datum": 70.79}}},
  {"data": {"values": [{}]}, "mark": {"type": "text", "text": "f"}, "encoding": {"x": {"datum": 1.06}, "y": {"datum": 36.31}}},
  {"data": {"values": [{}]}, "mark": {"type": "text", "text": "CO", "fontSize": 13, "dx": 6, "dy": 4}, "encoding": {"x": {"datum": 1.06}, "y": {"datum": 36.31}}},
  {"data": {"values": [{}]}, "mark": {"type": "text", "text": "+", "fontSize": 14, "dx": 26, "dy": -5}, "encoding": {"x": {"datum": 1.06}, "y": {"datum": 36.31}}},
  {"data": {"values": [{}]}, "mark": {"type": "rule", "strokeWidth": 1.5}, "encoding": {"x": {"datum": 1.37}, "y": {"datum": 33.11}, "x2": {"datum": 1.37}, "y2": {"datum": 14.13}}},
  {"data": {"values": [{}]}, "mark": {"type": "point", "angle": 90}, "encoding": {"x": {"datum": 1.37}, "y": {"datum": 14.13}}}
 ]},
 {"width": 252, "height": 241, "layer": [
  {"data": {"values": [{}]}, "mark": {"type": "rule", "strokeWidth": 2.5}, "encoding": {
    "x": {"datum": 1, "type": "quantitative", "scale": {"domain": [1, 5.2], "zero": false, "nice": false}, "axis": {"values": [1,2,3,4,5], "format": "d", "labelFontSize": 14, "labelFontWeight": "bold", "labelPadding": 6, "title": null}},
    "y": {"datum": 1, "type": "quantitative", "scale": {"type": "log", "domain": [1, 10000], "nice": false}, "axis": {"values": [1,10,100,1000,10000], "labels": false, "title": null}},
    "y2": {"datum": 13500}}},
  {"data": {"values": [{}]}, "mark": {"type": "rule", "strokeWidth": 2.5}, "encoding": {"x": {"datum": 1}, "x2": {"datum": 5.2}, "y": {"datum": 1}}},
  {"data": {"name": "es"}, "mark": {"type": "line"}, "encoding": {"x": {"field": "R", "type": "quantitative"}, "y": {"field": "ch", "type": "quantitative"}}},
  {"data": {"name": "es"}, "mark": {"type": "line"}, "encoding": {"x": {"field": "R", "type": "quantitative"}, "y": {"field": "co", "type": "quantitative"}}},
  {"data": {"name": "es"}, "mark": {"type": "line", "strokeDash": [10, 5]}, "encoding": {"x": {"field": "R", "type": "quantitative"}, "y": {"field": "h1", "type": "quantitative"}}},
  {"data": {"name": "es"}, "mark": {"type": "line", "strokeDash": [10, 5]}, "encoding": {"x": {"field": "R", "type": "quantitative"}, "y": {"field": "h2", "type": "quantitative"}}},
  {"data": {"name": "es"}, "mark": {"type": "line", "strokeDash": [10, 5]}, "encoding": {"x": {"field": "R", "type": "quantitative"}, "y": {"field": "h3", "type": "quantitative"}}},
  {"data": {"name": "es"}, "mark": {"type": "line", "strokeDash": [10, 5]}, "encoding": {"x": {"field": "R", "type": "quantitative"}, "y": {"field": "h4", "type": "quantitative"}}},
  {"data": {"name": "es"}, "mark": {"type": "line", "strokeDash": [10, 5]}, "encoding": {"x": {"field": "R", "type": "quantitative"}, "y": {"field": "h5", "type": "quantitative"}}},
  {"data": {"name": "es"}, "mark": {"type": "line", "strokeDash": [10, 5]}, "encoding": {"x": {"field": "R", "type": "quantitative"}, "y": {"field": "o1", "type": "quantitative"}}},
  {"data": {"name": "es"}, "mark": {"type": "line", "strokeDash": [10, 5]}, "encoding": {"x": {"field": "R", "type": "quantitative"}, "y": {"field": "o2", "type": "quantitative"}}},
  {"data": {"name": "es"}, "mark": {"type": "line", "strokeDash": [10, 5]}, "encoding": {"x": {"field": "R", "type": "quantitative"}, "y": {"field": "o3", "type": "quantitative"}}},
  {"data": {"name": "es"}, "mark": {"type": "line", "strokeDash": [10, 5]}, "encoding": {"x": {"field": "R", "type": "quantitative"}, "y": {"field": "o4", "type": "quantitative"}}},
  {"data": {"values": [{}]}, "mark": {"type": "text", "text": "ELECTROSTATIC", "align": "center", "baseline": "middle"}, "encoding": {"x": {"datum": 3.54}, "y": {"datum": 5129}}},
  {"data": {"values": [{}]}, "mark": {"type": "text", "text": "ION CYCLOTRON MODE", "align": "center", "baseline": "middle"}, "encoding": {"x": {"datum": 3.61}, "y": {"datum": 2344}}},
  {"data": {"values": [{}]}, "mark": {"type": "text", "text": "f"}, "encoding": {"x": {"datum": 2.94}, "y": {"datum": 4.677}}},
  {"data": {"values": [{}]}, "mark": {"type": "text", "text": "CH", "fontSize": 13, "dx": 6, "dy": 4}, "encoding": {"x": {"datum": 2.94}, "y": {"datum": 4.677}}},
  {"data": {"values": [{}]}, "mark": {"type": "text", "text": "+", "fontSize": 14, "dx": 25, "dy": -5}, "encoding": {"x": {"datum": 2.94}, "y": {"datum": 4.677}}},
  {"data": {"values": [{}]}, "mark": {"type": "rule", "strokeWidth": 1.5}, "encoding": {"x": {"datum": 3.47}, "y": {"datum": 5.012}, "x2": {"datum": 3.86}, "y2": {"datum": 6.026}}},
  {"data": {"values": [{}]}, "mark": {"type": "point", "angle": 348}, "encoding": {"x": {"datum": 3.86}, "y": {"datum": 6.026}}},
  {"data": {"values": [{}]}, "mark": {"type": "text", "text": "f"}, "encoding": {"x": {"datum": 1.19}, "y": {"datum": 1.778}}},
  {"data": {"values": [{}]}, "mark": {"type": "text", "text": "CO", "fontSize": 13, "dx": 6, "dy": 4}, "encoding": {"x": {"datum": 1.19}, "y": {"datum": 1.778}}},
  {"data": {"values": [{}]}, "mark": {"type": "text", "text": "+", "fontSize": 14, "dx": 26, "dy": -5}, "encoding": {"x": {"datum": 1.19}, "y": {"datum": 1.778}}},
  {"data": {"values": [{}]}, "mark": {"type": "rule", "strokeWidth": 1.5}, "encoding": {"x": {"datum": 1.25}, "y": {"datum": 3.715}, "x2": {"datum": 1.69}, "y2": {"datum": 6.026}}},
  {"data": {"values": [{}]}, "mark": {"type": "point", "angle": 334}, "encoding": {"x": {"datum": 1.69}, "y": {"datum": 6.026}}}
 ]}
]
}
